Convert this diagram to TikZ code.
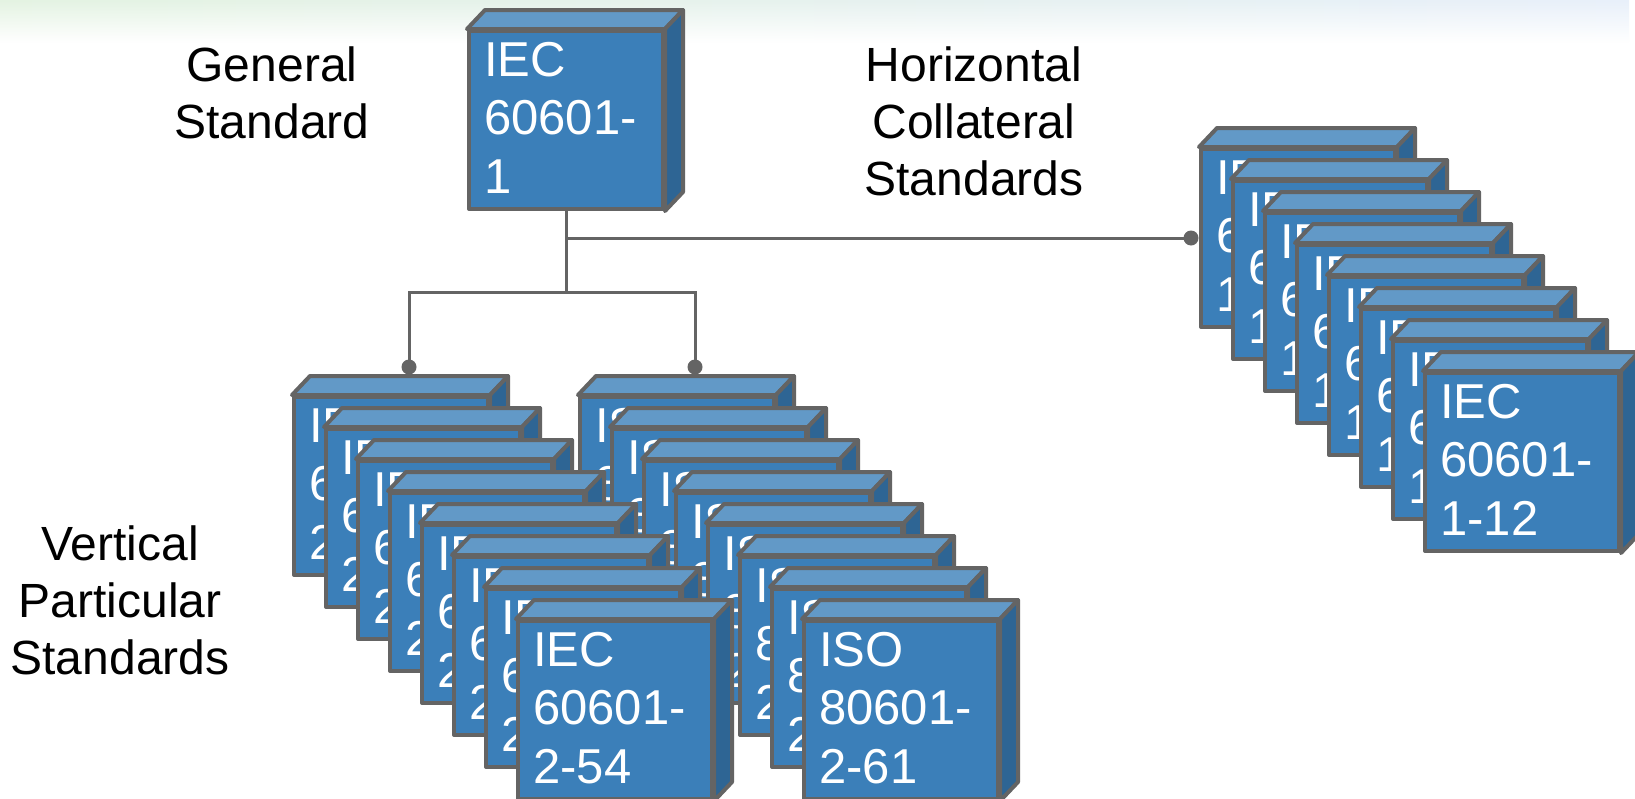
\documentclass[tikz,border=0pt]{standalone}
\usepackage{fontspec}
\setmainfont{Liberation Sans}
\usetikzlibrary{calc,fadings}
\definecolor{frontc}{RGB}{59,127,185}
\definecolor{topc}{RGB}{98,153,199}
\definecolor{sidec}{RGB}{46,101,148}
\definecolor{edgec}{RGB}{100,100,100}
\definecolor{bgg}{RGB}{228,243,226}
\definecolor{bgb}{RGB}{232,240,250}
\tikzset{
  frontface/.style={draw=edgec, fill=frontc, line width=4pt, minimum width=194pt,
    minimum height=178pt, inner sep=0pt, anchor=north west, line join=round},
  facepoly/.style={draw=edgec, line width=4pt, line join=round},
  cubetext/.style={text=white, font=\fontsize{49}{58.5}\selectfont, align=left,
    anchor=north west, inner sep=0pt},
  stdlabel/.style={text=black, font=\fontsize{48}{57}\selectfont, align=center,
    inner sep=0pt, anchor=north},
  conn/.style={draw=edgec, line width=3pt},
}
\newcommand\stdcube[4]{%
  \node[frontface] (#1) at ({#2},{#3}) {};
  \filldraw[facepoly, fill=topc] (#1.north west) -- ++(18,-19) -- ($(#1.north east)+(18,-19)$) -- (#1.north east) -- cycle;
  \filldraw[facepoly, fill=sidec] (#1.north east) -- ++(18,-19) -- ($(#1.south east)+(18,-19)$) -- (#1.south east) -- cycle;
  \node[cubetext] (#1-t) at ($(#1.north west)+(17,13)$) {#4};
}
\begin{document}
\begin{tikzpicture}[x=1pt,y=-1pt]
\useasboundingbox (0,0) rectangle (1635,798);
\fill[white] (0,0) rectangle (1635,798);
\shade[left color=bgg, right color=bgb, path fading=south] (0,0) rectangle (1635,42);

% labels
\node[stdlabel] (gen) at (272,47) {General\\Standard};
\node[stdlabel] (hor) at (974,47) {Horizontal\\Collateral\\Standards};
\node[stdlabel] (ver) at (120,526) {Vertical\\Particular\\Standards};

% general standard
\stdcube{top}{467}{29}{IEC\\60601-\\1}

% horizontal collateral stack
\foreach \i in {1,...,8} {
  \stdcube{R\i}{1199+32*(\i-1)}{147+32*(\i-1)}{IEC\\60601-\\1-12}
}
% ISO particular stack
\foreach \i in {1,...,8} {
  \stdcube{M\i}{578+32*(\i-1)}{395+32*(\i-1)}{ISO\\80601-\\2-61}
}
% IEC particular stack
\foreach \i in {1,...,8} {
  \stdcube{L\i}{292+32*(\i-1)}{395+32*(\i-1)}{IEC\\60601-\\2-54}
}

% connectors
\coordinate (busc) at ($(top.south)+(0,81)$);
\coordinate (hj) at (top.south |- R1.west);
\coordinate (rdot) at ($(R1.west)+(-8,0)$);
\coordinate (ldot) at ($(L1.north)+(18,-28)$);
\coordinate (mdot) at ($(M1.north)+(18,-28)$);
\draw[conn] (top.south) -- (busc);
\draw[conn] (hj) -- (rdot);
\draw[conn] (ldot) |- (busc);
\draw[conn] (mdot) |- (busc);
\fill[edgec] (ldot) circle[radius=7.5pt];
\fill[edgec] (mdot) circle[radius=7.5pt];
\fill[edgec] (rdot) circle[radius=7.5pt];
\end{tikzpicture}
\end{document}
